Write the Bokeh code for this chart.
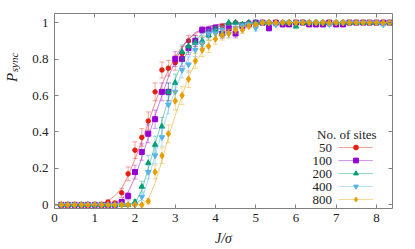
from bokeh.plotting import figure
from bokeh.layouts import row
from bokeh.models import Range1d, FixedTicker, LinearAxis, Label, Legend, LegendItem, ColumnDataSource
from bokeh.embed import file_html
from bokeh.resources import INLINE
import math

# ---------------- data ----------------
J = [0.17, 0.33, 0.5, 0.67, 0.83, 1.0, 1.17, 1.33, 1.5, 1.67, 1.83, 2.0, 2.17, 2.33, 2.5, 2.67, 2.83,
     3.0, 3.17, 3.33, 3.5, 3.67, 3.83, 4.0, 4.17, 4.33, 4.5, 4.67, 4.83, 5.0, 5.17, 5.33, 5.5, 5.67,
     5.83, 6.0, 6.17, 6.33, 6.5, 6.67, 6.83, 7.0, 7.17, 7.33, 7.5, 7.67, 7.83, 8.0, 8.17, 8.33]

P50 = [0, 0, 0, 0, 0, 0, 0, 0.015, 0.01, 0.066, 0.17, 0.30, 0.37, 0.46, 0.62, 0.74, 0.75, 0.78, 0.83,
       0.90, 0.90, 0.89, 0.94, 0.97, 0.98, 0.99, 1.0, 0.99, 1.0, 1, 1, 1, 1, 1, 1, 1, 1, 1, 1, 1, 1, 1,
       1, 1, 1, 1, 1, 1, 1, 1]
E50 = [0, 0, 0, 0, 0, 0, 0, 0.012, 0.01, 0.025, 0.038, 0.046, 0.048, 0.05, 0.049, 0.044, 0.043, 0.041,
       0.038, 0.03, 0.03, 0.031, 0.024, 0.017, 0.014, 0.01, 0, 0.01, 0, 0, 0, 0, 0, 0, 0, 0, 0, 0, 0, 0,
       0, 0, 0, 0, 0, 0, 0, 0, 0, 0]

P100 = [0, 0, 0, 0, 0, 0, 0, 0, 0, 0.016, 0.048, 0.18, 0.29, 0.39, 0.47, 0.62, 0.62, 0.80, 0.80, 0.86,
        0.90, 0.96, 0.96, 0.97, 0.94, 0.97, 0.94, 0.98, 0.99, 1.0, 1.0, 0.97, 1.0, 0.99, 0.99, 1.0, 1.0,
        0.99, 0.99, 0.99, 1.0, 0.99, 0.99, 1, 1, 1, 1, 1, 1, 1]
E100 = [0, 0, 0, 0, 0, 0, 0, 0, 0, 0.013, 0.021, 0.038, 0.045, 0.049, 0.05, 0.049, 0.049, 0.04, 0.04,
        0.035, 0.03, 0.02, 0.02, 0.017, 0.024, 0.017, 0.024, 0.014, 0.01, 0, 0, 0.017, 0, 0.01, 0.01, 0,
        0, 0.01, 0.01, 0.01, 0, 0.01, 0.01, 0, 0, 0, 0, 0, 0, 0]

P200 = [0, 0, 0, 0, 0, 0, 0, 0, 0, 0, 0, 0.016, 0.10, 0.23, 0.33, 0.43, 0.62, 0.67, 0.84, 0.87, 0.89,
        0.90, 0.93, 0.96, 0.94, 1.0, 1.0, 0.99, 1.0, 1.0, 1.0, 1.0, 1.0, 1.0, 1.0, 0.98, 1, 1, 1, 1, 1, 1,
        1, 1, 1, 1, 1, 1, 1, 1]
E200 = [0, 0, 0, 0, 0, 0, 0, 0, 0, 0, 0, 0.013, 0.03, 0.042, 0.047, 0.05, 0.049, 0.047, 0.037, 0.034,
        0.031, 0.03, 0.026, 0.02, 0.024, 0, 0, 0.01, 0, 0, 0, 0, 0, 0, 0, 0.014, 0, 0, 0, 0, 0, 0, 0, 0,
        0, 0, 0, 0, 0, 0]

P400 = [0, 0, 0, 0, 0, 0, 0, 0, 0, 0, 0, 0, 0.044, 0.18, 0.27, 0.37, 0.55, 0.62, 0.74, 0.77, 0.85,
        0.885, 0.94, 0.94, 0.96, 0.94, 0.97, 0.98, 0.99, 0.97, 1.0, 1.0, 0.99, 1.0, 1.0, 1.0, 1.0, 1.0,
        1.0, 1.0, 0.99, 1.0, 1.0, 1.0, 1.0, 1.0, 1.0, 1.0, 0.99, 1.0]
E400 = [0, 0, 0, 0, 0, 0, 0, 0, 0, 0, 0, 0, 0.02, 0.038, 0.044, 0.048, 0.05, 0.049, 0.044, 0.042,
        0.036, 0.032, 0.024, 0.024, 0.02, 0.024, 0.017, 0.014, 0.01, 0.017, 0, 0, 0.01, 0, 0, 0, 0, 0,
        0, 0, 0.01, 0, 0, 0, 0, 0, 0, 0, 0.01, 0]

P800 = [0, 0, 0, 0, 0, 0, 0, 0, 0, 0, 0, 0, 0, 0.02, 0.18, 0.27, 0.39, 0.57, 0.60, 0.69, 0.79, 0.85,
        0.87, 0.91, 0.93, 0.94, 0.96, 0.96, 0.98, 0.99, 1, 1, 1, 1, 1, 1, 1, 1, 1, 1, 1, 1, 1, 1, 1, 1,
        1, 1, 1, 1]
E800 = [0, 0, 0, 0, 0, 0, 0, 0, 0, 0, 0, 0, 0, 0.014, 0.038, 0.044, 0.049, 0.05, 0.049, 0.046, 0.041,
        0.036, 0.034, 0.029, 0.026, 0.024, 0.02, 0.02, 0.014, 0.01, 0, 0, 0, 0, 0, 0, 0, 0, 0, 0, 0, 0,
        0, 0, 0, 0, 0, 0, 0, 0]

# fitted curves
FJ = [0, 0.5, 1.0, 1.17, 1.33, 1.5, 1.67, 1.83, 2.0, 2.17, 2.33, 2.5, 2.67, 2.83, 3.0, 3.17, 3.33, 3.5,
      3.67, 3.83, 4.0, 4.17, 4.33, 4.5, 4.67, 4.83, 5.0, 5.5, 6.0, 8.4]
F50 = [0, 0, 0, 0.005, 0.022, 0.05, 0.09, 0.16, 0.25, 0.35, 0.45, 0.56, 0.66, 0.74, 0.81, 0.87, 0.91,
       0.94, 0.96, 0.975, 0.985, 0.99, 0.995, 0.997, 0.999, 1, 1, 1, 1, 1]
F100 = [0, 0, 0, 0, 0.003, 0.012, 0.03, 0.07, 0.15, 0.26, 0.37, 0.49, 0.60, 0.70, 0.79, 0.86, 0.91,
        0.945, 0.965, 0.98, 0.988, 0.993, 0.996, 0.998, 1, 1, 1, 1, 1, 1]
F200 = [0, 0, 0, 0, 0, 0, 0, 0.002, 0.01, 0.08, 0.20, 0.33, 0.46, 0.58, 0.69, 0.78, 0.85, 0.90, 0.94,
        0.96, 0.975, 0.985, 0.99, 0.995, 0.998, 1, 1, 1, 1, 1]
F400 = [0, 0, 0, 0, 0, 0, 0, 0, 0.003, 0.03, 0.14, 0.27, 0.40, 0.52, 0.63, 0.73, 0.81, 0.87, 0.91,
        0.94, 0.96, 0.975, 0.985, 0.99, 0.995, 0.997, 0.999, 1, 1, 1]
F800 = [0, 0, 0, 0, 0, 0, 0, 0, 0, 0.003, 0.03, 0.12, 0.24, 0.37, 0.49, 0.60, 0.70, 0.78, 0.84, 0.89,
        0.92, 0.945, 0.96, 0.972, 0.981, 0.987, 0.991, 0.997, 1, 1]

SERIES = ["50", "100", "200", "400", "800"]
LEGEND_TITLE = "No. of sites"
X_TICKS = [0, 1, 2, 3, 4, 5, 6, 7, 8]
Y_TICKS = [0, 0.2, 0.4, 0.6, 0.8, 1.0]
X_LABEL = "J/σ"
Y_LABEL_MAIN = "P"
Y_LABEL_SUB = "sync"

# ---------------- styles ----------------
COLORS = ["#e51e10", "#9400d3", "#009e73", "#56b4e9", "#e69f00"]
MARKERS = ["circle", "square", "triangle", "inverted_triangle", "diamond"]
MSIZES = [4.5, 5, 5.5, 5.5, 6.5]
FONT = "Liberation Serif"
GRAY = "#808080"
TXT = "#222222"
LAB_W = 22

p = figure(width=415 - LAB_W, height=249, output_backend="svg", toolbar_location=None,
           x_range=Range1d(0, 8.4), y_range=Range1d(-0.02, 1.05),
           min_border_left=54 - LAB_W, min_border_right=23, min_border_top=13, min_border_bottom=41)
p.grid.visible = False
p.outline_line_color = GRAY
p.outline_line_width = 1
p.background_fill_color = "white"
p.border_fill_color = "white"


def style_axis(ax, ticks, show_labels):
    ax.ticker = FixedTicker(ticks=ticks)
    ax.axis_line_color = None
    ax.major_tick_line_color = GRAY
    ax.major_tick_in = 4
    ax.major_tick_out = 0
    ax.minor_tick_line_color = None
    ax.major_label_text_font = FONT
    ax.major_label_text_font_size = "13px"
    ax.major_label_text_color = TXT
    if show_labels:
        ax.major_label_overrides = {0: "0", 1: "1"} if ticks is Y_TICKS else {}
    else:
        ax.major_label_overrides = {t: "" for t in ticks}
        ax.major_label_standoff = 0


xa = p.xaxis[0]
ya = p.yaxis[0]
style_axis(xa, X_TICKS, True)
style_axis(ya, Y_TICKS, True)
xa.major_label_standoff = 5
ya.major_label_standoff = 6
xa.axis_label = X_LABEL
xa.axis_label_text_font = FONT
xa.axis_label_text_font_style = "italic"
xa.axis_label_text_font_size = "14px"
xa.axis_label_text_color = TXT
xa.axis_label_standoff = 6

top = LinearAxis()
style_axis(top, X_TICKS, False)
p.add_layout(top, "above")
right = LinearAxis()
style_axis(right, Y_TICKS, False)
p.add_layout(right, "right")

items = []
for name, P, E, F, c, m, s in zip(SERIES, [P50, P100, P200, P400, P800], [E50, E100, E200, E400, E800],
                                  [F50, F100, F200, F400, F800], COLORS, MARKERS, MSIZES):
    up = [a + b for a, b in zip(P, E)]
    lo = [a - b for a, b in zip(P, E)]
    src = ColumnDataSource(dict(x=J, y=P, up=up, lo=lo))
    p.line(FJ, F, line_color=c, line_alpha=0.5, line_width=1)
    seg = p.segment(x0="x", y0="lo", x1="x", y1="up", source=src, line_color=c, line_alpha=0.4, line_width=1)
    p.scatter(x="x", y="up", source=src, marker="dash", size=5, line_color=c, line_alpha=0.4)
    p.scatter(x="x", y="lo", source=src, marker="dash", size=5, line_color=c, line_alpha=0.4)
    sc = p.scatter(x="x", y="y", source=src, marker=m, size=s, fill_color=c, line_color=c)
    items.append(LegendItem(label=" ", renderers=[seg, sc]))

legend = Legend(items=items, location=(284, 3), glyph_width=35, glyph_height=12, spacing=1,
                label_height=12, label_width=1, label_standoff=0, padding=0, margin=0,
                label_text_font_size="1px", background_fill_alpha=0, border_line_alpha=0)
p.add_layout(legend)

row_y = [60.7, 47.7, 34.7, 21.7, 8.7]
for name, yy in zip(SERIES, row_y):
    p.add_layout(Label(x=277.5, y=yy, x_units="screen", y_units="screen", text=name,
                       text_font=FONT, text_font_size="13px", text_align="right",
                       text_baseline="middle", text_color=TXT))
p.add_layout(Label(x=292.3, y=74, x_units="screen", y_units="screen", text=LEGEND_TITLE,
                   text_font=FONT, text_font_size="13px", text_align="center",
                   text_baseline="middle", text_color=TXT))

# narrow strip on the left carrying the rotated y axis label P_sync
lab = figure(width=LAB_W, height=249, output_backend="svg", toolbar_location=None,
             x_range=Range1d(0, 1), y_range=Range1d(0, 1),
             x_axis_location=None, y_axis_location=None,
             min_border_left=0, min_border_right=0, min_border_top=0, min_border_bottom=0)
lab.grid.visible = False
lab.outline_line_color = None
lab.background_fill_color = "white"
lab.border_fill_color = "white"
lab.add_layout(Label(x=11.5, y=131, x_units="screen", y_units="screen", text=Y_LABEL_MAIN,
                     angle=math.pi / 2, text_font=FONT, text_font_style="italic",
                     text_font_size="15px", text_align="center", text_baseline="middle",
                     text_color=TXT))
lab.add_layout(Label(x=13.5, y=146, x_units="screen", y_units="screen", text=Y_LABEL_SUB,
                     angle=math.pi / 2, text_font=FONT, text_font_style="italic",
                     text_font_size="11px", text_align="center", text_baseline="middle",
                     text_color=TXT))

layout = row(lab, p, spacing=0)
open("out.html", "w").write(file_html(layout, INLINE))
